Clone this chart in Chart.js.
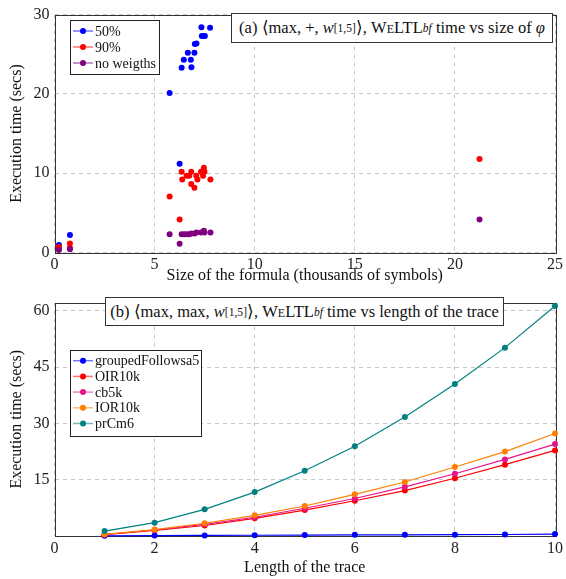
<!DOCTYPE html>
<html>
<head>
<meta charset="utf-8">
<script src="https://cdn.jsdelivr.net/npm/chart.js@4.4.0/dist/chart.umd.min.js"></script>
<style>
  body { margin: 0; background: #fff; width: 566px; height: 579px; position: relative; overflow: hidden; font-family: "Liberation Serif", serif; }
  canvas { position: absolute; left: 0; }
  #sizeChart { top: 0; }
  #traceChart { top: 288px; }
  .ttl { position: absolute; border: 1px solid #333; background: #fff; font-size: 16.5px; box-sizing: border-box;
         display: flex; align-items: center; justify-content: center; white-space: nowrap; color: #111; }
  .sc { font-variant: small-caps; }
  sub { font-size: 0.7em; vertical-align: -0.3em; line-height: 0; }
</style>
</head>
<body>
<canvas id="sizeChart" width="566" height="288"></canvas>
<canvas id="traceChart" width="566" height="291"></canvas>
<div class="ttl" style="left:231px;top:13px;width:322px;height:30px;">(a)&nbsp;⟨max,&nbsp;+,&nbsp;<i>w</i><sub>[1,5]</sub>⟩,&nbsp;W<span class="sc">e</span>LTL<sub><i>bf</i></sub>&nbsp;time vs size of&nbsp;<i>φ</i></div>
<div class="ttl" style="left:105px;top:297px;width:399px;height:29px;">(b)&nbsp;⟨max,&nbsp;max,&nbsp;<i>w</i><sub>[1,5]</sub>⟩,&nbsp;W<span class="sc">e</span>LTL<sub><i>bf</i></sub>&nbsp;time vs length of the trace</div>
<script>
// (a) execution time vs size of the formula (thousands of symbols)
const x50 = [0.22, 0.22, 0.77, 5.75, 6.25, 6.35, 6.84, 6.46, 6.81, 6.66, 6.99, 7.01, 7.09, 7.36, 7.44, 7.51, 7.34, 7.77];
const y50 = [0.5, 0.94, 2.2, 20.1, 11.2, 23.3, 23.35, 24.3, 24.3, 25.2, 25.2, 26.3, 26.35, 27.3, 27.3, 27.3, 28.4, 28.35];
const x90 = [0.22, 0.77, 0.77, 5.75, 6.25, 6.35, 6.38, 6.6, 6.73, 6.83, 6.83, 6.99, 7.08, 7.14, 7.32, 7.42, 7.46, 7.49, 7.79, 21.23];
const y90 = [0.7, 1.15, 0.6, 7.06, 4.15, 10.19, 9.19, 9.69, 9.69, 10.19, 8.65, 8.15, 9.69, 9.19, 10.19, 9.69, 10.69, 10.19, 9.19, 11.8];
const xNoW = [0.22, 0.77, 5.75, 6.25, 6.35, 6.48, 6.6, 6.73, 6.83, 6.99, 7.09, 7.32, 7.46, 7.49, 7.79, 21.23];
const yNoW = [0.3, 0.4, 2.31, 1.1, 2.31, 2.31, 2.31, 2.31, 2.4, 2.4, 2.52, 2.52, 2.73, 2.52, 2.52, 4.15];

// (b) execution time vs length of the trace
const traceLen = [1, 2, 3, 4, 5, 6, 7, 8, 9, 10];
const groupedFollowsa5 = [0.05, 0.1, 0.15, 0.2, 0.25, 0.3, 0.3, 0.35, 0.4, 0.5];
const OIR10k = [0.35, 1.5, 2.8, 4.7, 6.9, 9.4, 12.1, 15.4, 19.0, 22.8];
const cb5k = [0.4, 1.6, 3.1, 5.0, 7.4, 10.0, 13.1, 16.6, 20.4, 24.5];
const IOR10k = [0.45, 1.7, 3.4, 5.5, 8.0, 11.1, 14.4, 18.4, 22.5, 27.3];
const prCm6 = [1.3, 3.55, 7.1, 11.7, 17.4, 23.9, 31.7, 40.5, 50.2, 61.3];

const sizeXTicks = [0, 5, 10, 15, 20, 25];
const sizeYTicks = [0, 10, 20, 30];
const traceXTicks = [0, 2, 4, 6, 8, 10];
const traceYTicks = [15, 30, 45, 60];

const zip = (xs, ys) => xs.map((x, i) => ({ x: x, y: ys[i] }));
const serif = "'Liberation Serif', serif";

// box round the plot area, like pgfplots
const frame = {
  id: "frame",
  beforeDatasetsDraw(chart) {
    const a = chart.chartArea, ctx = chart.ctx;
    ctx.save();
    ctx.strokeStyle = "#333";
    ctx.lineWidth = 1;
    ctx.strokeRect(Math.round(a.left) + 0.5, Math.round(a.top) + 0.5, Math.round(a.right - a.left), Math.round(a.bottom - a.top));
    ctx.restore();
  },
};

// legend drawn inside the plot with a box
const boxLegend = {
  id: "boxLegend",
  afterDatasetsDraw(chart, args, o) {
    const ctx = chart.ctx;
    ctx.save();
    ctx.fillStyle = "#fff";
    ctx.fillRect(o.x, o.y, o.w, o.h);
    ctx.strokeStyle = "#222";
    ctx.lineWidth = 1;
    ctx.strokeRect(o.x + 0.5, o.y + 0.5, o.w, o.h);
    ctx.font = o.font;
    ctx.textBaseline = "middle";
    chart.data.datasets.forEach((ds, i) => {
      const y = o.y0 + i * o.step;
      ctx.globalAlpha = 0.55;
      ctx.strokeStyle = ds.borderColor;
      ctx.lineWidth = 1.5;
      ctx.beginPath();
      ctx.moveTo(o.x + 3, y);
      ctx.lineTo(o.x + 23, y);
      ctx.stroke();
      ctx.globalAlpha = 1;
      ctx.fillStyle = ds.backgroundColor;
      ctx.beginPath();
      ctx.arc(o.x + 13, y, 3, 0, Math.PI * 2);
      ctx.fill();
      ctx.fillStyle = "#111";
      ctx.fillText(ds.label, o.x + 25, y + 1);
    });
    ctx.restore();
  },
};

function axes(xTicks, yTicks, xMax, yMax, xTitle, yWidth, xHeight) {
  const tickFont = { family: serif, size: 16 };
  const titleFont = { family: serif, size: 16 };
  return {
    x: {
      type: "linear", min: 0, max: xMax,
      afterBuildTicks: (s) => { s.ticks = xTicks.map((v) => ({ value: v })); },
      afterFit: (s) => { s.height = xHeight; },
      grid: { color: "#c8c8c8", drawTicks: false },
      border: { display: false, dash: [4, 4] },
      ticks: { font: tickFont, color: "#222", padding: 3, maxRotation: 0 },
      title: { display: true, text: xTitle, font: titleFont, color: "#111", padding: { top: 0, bottom: 0 } },
    },
    y: {
      type: "linear", min: 0, max: yMax,
      afterBuildTicks: (s) => { s.ticks = yTicks.map((v) => ({ value: v })); },
      afterFit: (s) => { s.width = yWidth; },
      grid: { color: "#c8c8c8", drawTicks: false },
      border: { display: false, dash: [4, 4] },
      ticks: { font: tickFont, color: "#222", padding: 5 },
      title: { display: true, text: "Execution time (secs)", font: titleFont, color: "#111", padding: { top: 7, bottom: 0 } },
    },
  };
}

// (a) scatter
new Chart(document.getElementById("sizeChart").getContext("2d"), {
  type: "scatter",
  data: {
    datasets: [
      { label: "50%", data: zip(x50, y50), backgroundColor: "#0000ff", borderColor: "#0000ff", order: 2 },
      { label: "90%", data: zip(x90, y90), backgroundColor: "#ff0000", borderColor: "#ff0000", order: 1 },
      { label: "no weigths", data: zip(xNoW, yNoW), backgroundColor: "#800080", borderColor: "#800080", order: 0 },
    ],
  },
  options: {
    responsive: false,
    animation: false,
    layout: { padding: { top: 12.5, right: 8, bottom: 2.3, left: 0 } },
    elements: { point: { radius: 3, borderWidth: 0 } },
    clip: false,
    scales: axes(sizeXTicks, sizeYTicks, 25, 30, "Size of the formula (thousands of symbols)", 54.5, 33.2),
    plugins: {
      legend: { display: false },
      tooltip: { enabled: false },
      boxLegend: { x: 70, y: 20, w: 89, h: 54, y0: 31, step: 16, font: "14px " + serif },
    },
  },
  plugins: [frame, boxLegend],
});

// (b) lines
const traceSeries = [
  ["groupedFollowsa5", groupedFollowsa5, "#0000ff"],
  ["OIR10k", OIR10k, "#ff0000"],
  ["cb5k", cb5k, "#e7158c"],
  ["IOR10k", IOR10k, "#ff8000"],
  ["prCm6", prCm6, "#008080"],
];

new Chart(document.getElementById("traceChart").getContext("2d"), {
  type: "line",
  data: {
    datasets: traceSeries.map(([name, vals, col], i) => ({
      label: name,
      data: zip(traceLen, vals),
      borderColor: col,
      backgroundColor: col,
      borderWidth: 1.2,
      pointRadius: 3,
      pointBorderWidth: 0,
      fill: false,
      order: 5 - i,
    })),
  },
  options: {
    responsive: false,
    animation: false,
    layout: { padding: { top: 8.7, right: 8, bottom: 2, left: 0 } },
    clip: false,
    scales: axes(traceXTicks, traceYTicks, 10, 62.2, "Length of the trace", 54.5, 41),
    plugins: {
      legend: { display: false },
      tooltip: { enabled: false },
      boxLegend: { x: 70, y: 62, w: 131, h: 86, y0: 72.7, step: 15.7, font: "14px " + serif },
    },
  },
  plugins: [frame, boxLegend],
});
</script>
</body>
</html>
